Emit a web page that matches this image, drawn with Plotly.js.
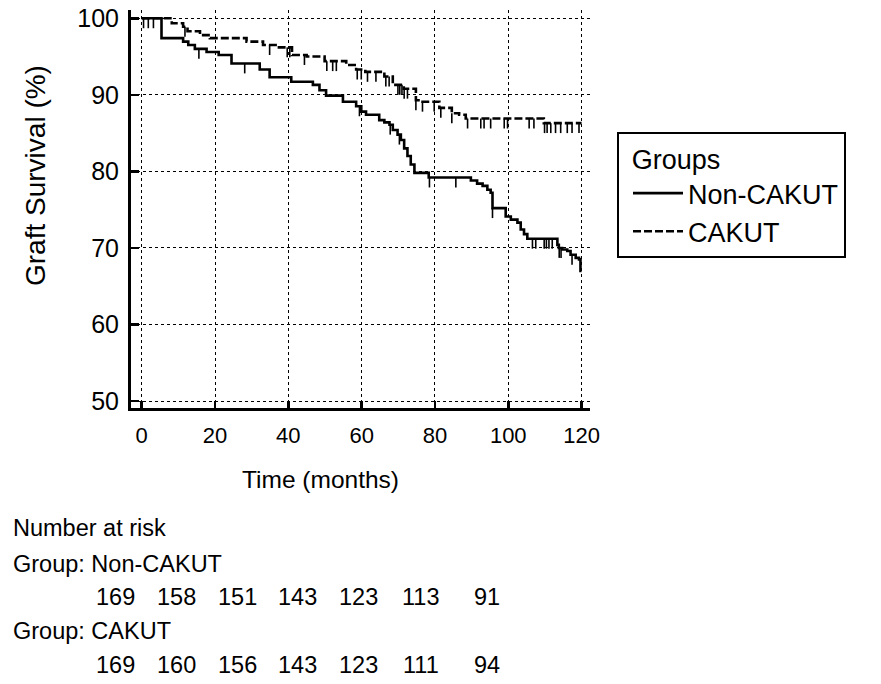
<!DOCTYPE html>
<html>
<head>
<meta charset="utf-8">
<script src="https://cdn.plot.ly/plotly-3.0.1.min.js"></script>
<style>
html,body{margin:0;padding:0;background:#fff;}
#chart{width:881px;height:684px;}
</style>
</head>
<body>
<div id="chart"></div>
<script>
// ---- Data ----
const groupNames = ["Non-CAKUT", "CAKUT"];
const legendTitle = "Groups";

// Non-CAKUT Kaplan-Meier steps (months, survival %)
const nonTimes = [0, 5.4, 11.3, 12.7, 14.5, 17.7, 21.0, 24.5, 32.2, 34.9, 40.8, 46.7, 48.5, 50.3, 54.9, 58.5, 59.9, 61.2, 64.8, 66.2, 67.6, 68.5, 69.8, 70.7, 71.6, 72.5, 73.4, 74.4, 78.3, 89.8, 91.5, 93.0, 94.3, 95.2, 95.7, 99.3, 100.7, 102.5, 103.4, 104.3, 105.2, 113.4, 113.8, 114.7, 116.1, 117.0, 118.4, 119.3, 119.7, 120];
const nonSurv  = [100, 97.4, 96.95, 96.5, 96.0, 95.6, 95.2, 94.1, 93.3, 92.3, 91.7, 91.3, 90.6, 89.9, 89.1, 88.5, 87.8, 87.4, 86.7, 86.4, 86.1, 85.4, 84.8, 84.1, 83.0, 82.0, 80.9, 79.8, 79.2, 78.8, 78.4, 78.1, 77.6, 77.2, 75.2, 74.1, 73.7, 73.3, 72.4, 71.8, 71.2, 70.4, 70.0, 69.8, 69.6, 69.1, 68.7, 68.5, 67.0, 67.0];
const nonCensored = [0.5, 1.8, 3.2, 15.6, 28.1, 59.4, 67.8, 70.3, 78.5, 85.7, 95.7, 106.6, 107.5, 109.8, 110.4, 111.1, 112.0, 113.9, 114.4, 117.4];

// CAKUT Kaplan-Meier steps (months, survival %)
const cakTimes = [0, 8.2, 11.3, 12.5, 15.9, 18.6, 28.6, 33.1, 37.0, 41.0, 45.0, 49.9, 55.8, 58.5, 61.0, 66.2, 68.5, 71.5, 74.8, 76.2, 81.2, 84.6, 86.6, 88.4, 109.7, 120];
const cakSurv  = [100, 99.35, 98.9, 98.3, 97.8, 97.4, 96.95, 96.5, 96.2, 95.2, 95.0, 94.4, 93.9, 93.3, 93.0, 92.4, 91.3, 90.8, 89.3, 89.1, 88.3, 87.6, 87.4, 86.9, 86.3, 86.3];
const cakCensored = [11.8, 34.9, 39.7, 40.4, 44.4, 50.5, 52.1, 53.1, 58.8, 59.9, 61.6, 63.9, 66.6, 67.5, 69.9, 70.4, 71.0, 71.6, 72.5, 74.8, 76.6, 79.8, 81.6, 84.6, 88.9, 92.5, 93.4, 95.2, 98.9, 99.8, 105.7, 107.0, 109.9, 110.6, 111.6, 112.9, 114.3, 116.1, 117.4, 119.3];

// Number at risk table
const riskTimes = [0, 20, 40, 60, 80, 100, 120];
const riskNon = [169, 158, 151, 143, 123, 113, 91];
const riskCak = [169, 160, 156, 143, 123, 111, 94];

// Axis ticks
const xTicks = [0, 20, 40, 60, 80, 100, 120];
const yTicks = [50, 60, 70, 80, 90, 100];

// ---- helpers ----
function stepAt(times, surv, t) {
  let v = surv[0];
  for (let i = 0; i < times.length; i++) { if (times[i] <= t) v = surv[i]; }
  return v;
}

const FONT = "'Liberation Sans', Arial, sans-serif";

const traces = [
  {
    x: nonTimes, y: nonSurv, type: "scatter", mode: "lines", name: groupNames[0],
    line: {shape: "hv", color: "#000", width: 2.6}
  },
  {
    x: cakTimes, y: cakSurv, type: "scatter", mode: "lines", name: groupNames[1],
    line: {shape: "hv", color: "#000", width: 2.6, dash: "8px,3px"}
  },
  {
    x: nonCensored, y: nonCensored.map(t => stepAt(nonTimes, nonSurv, t)),
    type: "scatter", mode: "markers", showlegend: false, hoverinfo: "skip",
    marker: {size: 1, color: "rgba(0,0,0,0)"},
    error_y: {type: "constant", symmetric: false, value: 0, valueminus: 1.3, width: 0, thickness: 1.6, color: "#000"}
  },
  {
    x: cakCensored, y: cakCensored.map(t => stepAt(cakTimes, cakSurv, t)),
    type: "scatter", mode: "markers", showlegend: false, hoverinfo: "skip",
    marker: {size: 1, color: "rgba(0,0,0,0)"},
    error_y: {type: "constant", symmetric: false, value: 0, valueminus: 1.3, width: 0, thickness: 1.6, color: "#000"}
  }
];

// pixel -> paper helpers for the fixed-size page
const L = 131, R = 590, T = 10, B = 408;
const px2x = p => (p - L) / (R - L);
const py2y = p => (B - p) / (B - T);

const TBL = 23.5;
const annotations = [
  {text: "Time (months)", xref: "paper", yref: "paper", x: px2x(320), y: py2y(480), showarrow: false,
   font: {family: FONT, size: 24.5, color: "#000"}, xanchor: "center", yanchor: "middle"},
  {text: "Graft Survival (%)", xref: "paper", yref: "paper", x: px2x(35), y: py2y(176), showarrow: false,
   textangle: -90, font: {family: FONT, size: 28, color: "#000"}, xanchor: "center", yanchor: "middle"},
  {text: "Number at risk", xref: "paper", yref: "paper", x: px2x(11), y: py2y(528), showarrow: false,
   font: {family: FONT, size: TBL, color: "#000"}, xanchor: "left", yanchor: "middle"},
  {text: "Group: " + groupNames[0], xref: "paper", yref: "paper", x: px2x(11), y: py2y(564), showarrow: false,
   font: {family: FONT, size: TBL, color: "#000"}, xanchor: "left", yanchor: "middle"},
  {text: "Group: " + groupNames[1], xref: "paper", yref: "paper", x: px2x(11), y: py2y(631), showarrow: false,
   font: {family: FONT, size: TBL, color: "#000"}, xanchor: "left", yanchor: "middle"}
];
riskTimes.forEach((t, i) => {
  const right = 137 + 60.8 * i;
  annotations.push({text: String(riskNon[i]), xref: "paper", yref: "paper", x: px2x(right), y: py2y(597), showarrow: false,
    font: {family: FONT, size: TBL, color: "#000"}, xanchor: "right", yanchor: "middle"});
  annotations.push({text: String(riskCak[i]), xref: "paper", yref: "paper", x: px2x(right), y: py2y(665), showarrow: false,
    font: {family: FONT, size: TBL, color: "#000"}, xanchor: "right", yanchor: "middle"});
});

const layout = {
  width: 881, height: 684,
  margin: {l: L, r: 881 - R, t: T, b: 684 - B, pad: 0},
  paper_bgcolor: "#fff", plot_bgcolor: "#fff",
  font: {family: FONT, color: "#000"},
  showlegend: true,
  legend: {
    x: px2x(617), y: py2y(132), xanchor: "left", yanchor: "top",
    bordercolor: "#000", borderwidth: 2, bgcolor: "#fff",
    font: {family: FONT, size: 27, color: "#000"},
    title: {text: "\u2009\u2009" + legendTitle, font: {family: FONT, size: 27, color: "#000"}},
    itemwidth: 50, tracegroupgap: 0, indentation: 9
  },
  xaxis: {
    range: [-2.92, 122.3], tickvals: xTicks, ticktext: xTicks.map(String),
    showgrid: true, gridcolor: "#000", gridwidth: 1, griddash: "dot",
    zeroline: false, showline: true, linecolor: "#000", linewidth: 3,
    ticks: "inside", ticklen: 7, tickwidth: 2.5, tickcolor: "#000",
    ticklabelstandoff: 6,
    tickfont: {family: FONT, size: 22, color: "#000"}, fixedrange: true
  },
  yaxis: {
    range: [49.09, 101.08], tickvals: yTicks, ticktext: yTicks.map(String),
    showgrid: true, gridcolor: "#000", gridwidth: 1, griddash: "dot",
    zeroline: false, showline: true, linecolor: "#000", linewidth: 3,
    ticks: "inside", ticklen: 8, tickwidth: 2.5, tickcolor: "#000",
    ticklabelstandoff: 4,
    tickfont: {family: FONT, size: 25, color: "#000"}, fixedrange: true
  },
  annotations: annotations
};

Plotly.newPlot("chart", traces, layout, {staticPlot: true, displayModeBar: false});
</script>
</body>
</html>
